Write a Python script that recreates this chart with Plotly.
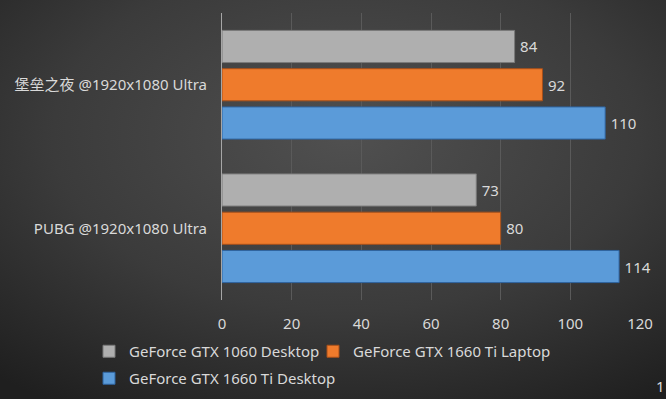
import plotly.graph_objects as go
import base64

categories = ["堡垒之夜 @1920x1080 Ultra", "PUBG @1920x1080 Ultra"]
series_names = ["GeForce GTX 1060 Desktop", "GeForce GTX 1660 Ti Laptop", "GeForce GTX 1660 Ti Desktop"]
gtx1060_desktop = [84, 73]
gtx1660ti_laptop = [92, 80]
gtx1660ti_desktop = [110, 114]
x_ticks = [0, 20, 40, 60, 80, 100, 120]

colors = ["#afafaf", "#ef7b2c", "#5b9bd9"]
edges = ["#7a7a7a", "#a8501a", "#2f64a0"]
values = [gtx1060_desktop, gtx1660ti_laptop, gtx1660ti_desktop]
legend_ids = ["legend", "legend2", "legend3"]

W, H = 666, 399
ml, mr, mt, mb = 222, 26, 13, 99
pw, ph = W - ml - mr, H - mt - mb

font_fam = "Noto Sans, Noto Sans CJK SC, sans-serif"
txt_col = "#d9d9d9"
fs = 15

fig = go.Figure()
for name, vals, c, e, lg in zip(series_names, values, colors, edges, legend_ids):
    fig.add_trace(go.Bar(
        y=categories, x=vals, name=name, orientation="h",
        marker=dict(color=c, line=dict(color=e, width=1)),
        text=[str(v) for v in vals], texttemplate="\u2009%{text}", textposition="outside",
        textfont=dict(color=txt_col, size=fs, family=font_fam),
        cliponaxis=False, legend=lg,
    ))

svg = f'''<svg xmlns="http://www.w3.org/2000/svg" width="{W}" height="{H}">
<defs><radialGradient id="g" cx="0.52" cy="0.34" r="0.8">
<stop offset="0" stop-color="#505050"/><stop offset="0.55" stop-color="#3b3b3b"/><stop offset="1" stop-color="#1f1f1f"/>
</radialGradient></defs><rect width="{W}" height="{H}" fill="url(#g)"/></svg>'''
src = "data:image/svg+xml;base64," + base64.b64encode(svg.encode()).decode()


def leg(xpx, ypx):
    return dict(orientation="h", xref="container", yref="container",
                x=xpx / W, xanchor="left", y=1 - ypx / H, yanchor="top",
                font=dict(size=fs, color=txt_col), itemwidth=30,
                bgcolor="rgba(0,0,0,0)")


fig.update_layout(
    width=W, height=H,
    margin=dict(l=ml, r=mr, t=mt, b=mb, autoexpand=False),
    paper_bgcolor="#363636", plot_bgcolor="rgba(0,0,0,0)",
    barmode="group", bargap=0.2, bargroupgap=0.16,
    font=dict(family=font_fam, color=txt_col, size=fs),
    images=[dict(source=src, xref="paper", yref="paper",
                 x=-ml / pw, y=1 + mt / ph, sizex=W / pw, sizey=H / ph,
                 sizing="stretch", layer="below", xanchor="left", yanchor="top")],
    xaxis=dict(range=[0, 120], tickvals=x_ticks, showgrid=True, gridcolor="#5a5a5a",
               gridwidth=1, zeroline=False, showline=False,
               tickfont=dict(size=fs, color=txt_col), ticks="", ticklabelstandoff=13),
    yaxis=dict(autorange="reversed", showline=True, linecolor="#a6a6a6", linewidth=1,
               ticks="", tickfont=dict(size=fs, color=txt_col), ticklabelstandoff=11),
    legend=leg(89, 335),
    legend2=leg(313, 335),
    legend3=leg(89, 362),
    showlegend=True,
    annotations=[dict(text="1", xref="paper", yref="paper", x=(W - 6 - ml) / pw,
                      y=-(386 - mt - ph) / ph, showarrow=False,
                      font=dict(size=fs, color=txt_col), xanchor="center", yanchor="middle")],
)

fig.write_html("out.html", config={"displayModeBar": False},
               post_script="document.body.style.margin='0';document.body.style.overflow='hidden';"
                           "document.documentElement.style.overflow='hidden';"
                           "document.body.style.background='#2a2a2a';")
